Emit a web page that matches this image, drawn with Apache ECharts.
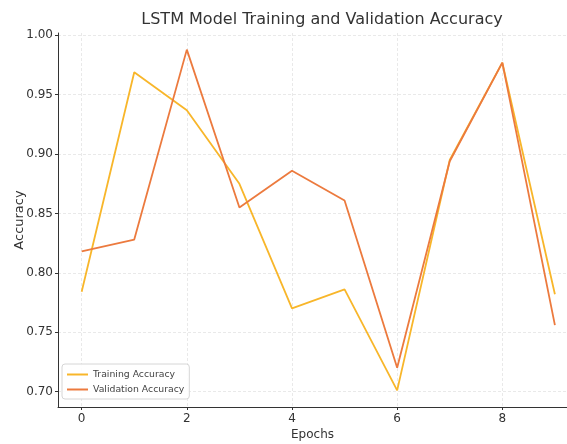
<!DOCTYPE html>
<html>
<head>
<meta charset="utf-8">
<script src="https://cdn.jsdelivr.net/npm/echarts@6/dist/echarts.min.js"></script>
<style>
    html, body { margin: 0; padding: 0; background: #fff; }
    #main { width: 567px; height: 444px; }
</style>
</head>
<body>
<div id="main"></div>
<script>
    // data
    const epochs = [0, 1, 2, 3, 4, 5, 6, 7, 8, 9];
    const trainAcc = [0.784, 0.969, 0.937, 0.875, 0.770, 0.786, 0.701, 0.895, 0.977, 0.782];
    const valAcc = [0.818, 0.828, 0.988, 0.855, 0.886, 0.861, 0.720, 0.894, 0.977, 0.756];
    const xTicks = [0, 2, 4, 6, 8];
    const yTicks = [0.70, 0.75, 0.80, 0.85, 0.90, 0.95, 1.00];

    const font = 'DejaVu Sans';
    const chart = echarts.init(document.getElementById('main'));

    chart.setOption({
        animation: false,
        backgroundColor: '#fff',
        title: {
            text: 'LSTM Model Training and Validation Accuracy',
            left: 317,
            textAlign: 'center',
            top: 7,
            textStyle: { fontFamily: font, fontSize: 16, fontWeight: 'normal', color: '#333' }
        },
        legend: {
            orient: 'vertical',
            left: 62,
            top: 364,
            itemWidth: 21,
            itemHeight: 2,
            itemGap: 6,
            icon: 'rect',
            padding: [6, 5, 5, 5],
            backgroundColor: 'rgba(255,255,255,0.9)',
            borderColor: '#d6d6d6',
            borderWidth: 1,
            borderRadius: 3,
            textStyle: { fontFamily: font, fontSize: 9.3, color: '#444' },
            data: ['Training Accuracy', 'Validation Accuracy']
        },
        grid: { left: 58, right: 0, top: 33, bottom: 37, containLabel: false, outerBoundsMode: 'none' },
        xAxis: {
            type: 'value',
            min: -0.45,
            max: 9.23,
            name: 'Epochs',
            nameLocation: 'middle',
            nameGap: 22,
            nameMoveOverlap: false,
            nameTextStyle: { fontFamily: font, fontSize: 12, color: '#333' },
            axisLine: { show: true, onZero: false, lineStyle: { color: '#333', width: 1 } },
            axisTick: { show: true, customValues: xTicks, length: 3, lineStyle: { color: '#333' } },
            axisLabel: { customValues: xTicks, fontFamily: font, fontSize: 12, color: '#333', margin: 6 },
            splitLine: { show: true, lineStyle: { color: '#e3e3e3', type: [3, 2], width: 0.8 } }
        },
        yAxis: {
            type: 'value',
            min: 0.687,
            max: 1.002,
            name: 'Accuracy',
            nameLocation: 'middle',
            nameGap: 32,
            nameMoveOverlap: false,
            nameTextStyle: { fontFamily: font, fontSize: 13, color: '#333' },
            axisLine: { show: true, onZero: false, lineStyle: { color: '#333', width: 1 } },
            axisTick: { show: true, customValues: yTicks, length: 3, lineStyle: { color: '#333' } },
            axisLabel: {
                customValues: yTicks,
                fontFamily: font, fontSize: 12, color: '#333', margin: 5,
                formatter: v => v.toFixed(2)
            },
            splitLine: { show: true, lineStyle: { color: '#e3e3e3', type: [3, 2], width: 0.8 } }
        },
        series: [
            {
                name: 'Training Accuracy',
                type: 'line',
                data: epochs.map((e, i) => [e, trainAcc[i]]),
                showSymbol: false,
                color: '#f8b62a',
                lineStyle: { width: 1.8 }
            },
            {
                name: 'Validation Accuracy',
                type: 'line',
                data: epochs.map((e, i) => [e, valAcc[i]]),
                showSymbol: false,
                color: '#ec7a3e',
                lineStyle: { width: 1.8 }
            }
        ]
    });
</script>
</body>
</html>
